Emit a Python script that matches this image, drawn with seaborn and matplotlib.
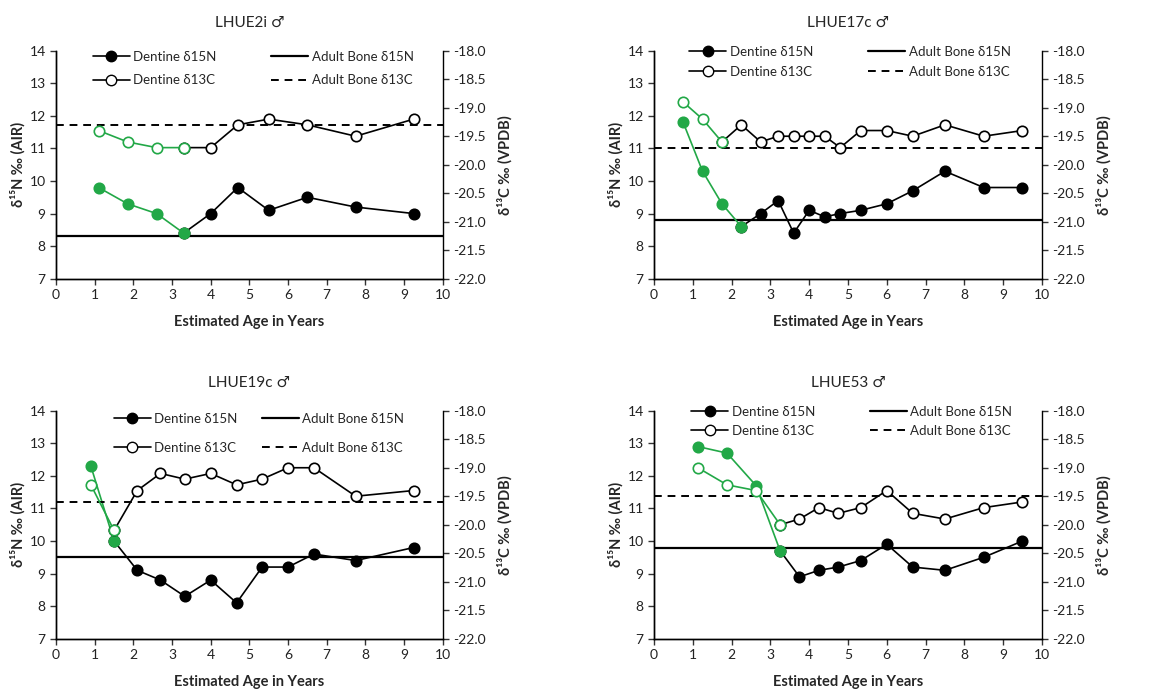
import numpy as np
import matplotlib
matplotlib.use("Agg")
import matplotlib.pyplot as plt
import seaborn as sns
from matplotlib.lines import Line2D
from matplotlib.ticker import FormatStrFormatter

sns.set_style("ticks")
plt.rcParams['font.family'] = ['Lato', 'DejaVu Sans']
plt.rcParams['axes.unicode_minus'] = False

GREEN = '#22a847'

# Data per individual
titles = ['LHUE2i ♂', 'LHUE17c ♂', 'LHUE19c ♂', 'LHUE53 ♂']

age_2i = [1.1, 1.85, 2.6, 3.3, 4.0, 4.7, 5.5, 6.5, 7.75, 9.25]
n15_2i = [9.8, 9.3, 9.0, 8.4, 9.0, 9.8, 9.1, 9.5, 9.2, 9.0]
c13_2i = [-19.4, -19.6, -19.7, -19.7, -19.7, -19.3, -19.2, -19.3, -19.5, -19.2]

age_17c = [0.75, 1.25, 1.75, 2.25, 2.75, 3.2, 3.6, 4.0, 4.4, 4.8, 5.33, 6.0, 6.67, 7.5, 8.5, 9.5]
n15_17c = [11.8, 10.3, 9.3, 8.6, 9.0, 9.4, 8.4, 9.1, 8.9, 9.0, 9.1, 9.3, 9.7, 10.3, 9.8, 9.8]
c13_17c = [-18.9, -19.2, -19.6, -19.3, -19.6, -19.5, -19.5, -19.5, -19.5, -19.7, -19.4, -19.4, -19.5, -19.3, -19.5, -19.4]

age_19c = [0.9, 1.5, 2.1, 2.7, 3.33, 4.0, 4.67, 5.33, 6.0, 6.67, 7.75, 9.25]
n15_19c = [12.3, 10.0, 9.1, 8.8, 8.3, 8.8, 8.1, 9.2, 9.2, 9.6, 9.4, 9.8]
c13_19c = [-19.3, -20.1, -19.4, -19.1, -19.2, -19.1, -19.3, -19.2, -19.0, -19.0, -19.5, -19.4]

age_53 = [1.13, 1.88, 2.63, 3.25, 3.75, 4.25, 4.75, 5.33, 6.0, 6.67, 7.5, 8.5, 9.5]
n15_53 = [12.9, 12.7, 11.7, 9.7, 8.9, 9.1, 9.2, 9.4, 9.9, 9.2, 9.1, 9.5, 10.0]
c13_53 = [-19.0, -19.3, -19.4, -20.0, -19.9, -19.7, -19.8, -19.7, -19.4, -19.8, -19.9, -19.7, -19.6]

ages = [age_2i, age_17c, age_19c, age_53]
n15s = [n15_2i, n15_17c, n15_19c, n15_53]
c13s = [c13_2i, c13_17c, c13_19c, c13_53]
# number of early (green) points per series
green_n = [4, 4, 2, 4]
green_c = [4, 3, 2, 4]
adult_n = [8.3, 8.8, 9.5, 9.8]
adult_c = [-19.3, -19.7, -19.6, -19.5]

# layout
positions = [
    [0.048, 0.599, 0.331, 0.328],
    [0.560, 0.599, 0.332, 0.328],
    [0.048, 0.081, 0.331, 0.328],
    [0.560, 0.081, 0.332, 0.328],
]
leg_x = [0.51, 0.505, 0.525, 0.51]
leg_y = [1.053, 1.075, 1.044, 1.075]
leg_rowsp = [0.9, 0.65, 1.3, 0.55]
leg_colsp = [4.1, 4.1, 1.8, 4.1]

fig = plt.figure(figsize=(11.68, 6.95), dpi=100)


def draw_series(ax, x, y, g, filled):
    x = np.asarray(x)
    y = np.asarray(y)
    kw = dict(marker='o', markersize=7.5, linewidth=1.2, markeredgewidth=1.2, legend=False)
    # later part in black
    sns.lineplot(x=x[g - 1:], y=y[g - 1:], ax=ax, color='black',
                 markerfacecolor='black' if filled else 'white',
                 markeredgecolor='black', **kw)
    # early part in green
    sns.lineplot(x=x[:g], y=y[:g], ax=ax, color=GREEN,
                 markerfacecolor=GREEN if filled else 'white',
                 markeredgecolor=GREEN, **kw)


for i in range(4):
    ax = fig.add_axes(positions[i])
    ax2 = ax.twinx()

    ax.axhline(adult_n[i], color='black', lw=1.6, zorder=1)
    draw_series(ax, ages[i], n15s[i], green_n[i], True)
    ax2.axhline(adult_c[i], color='black', lw=1.4, ls=(0, (4, 3)), zorder=1)
    draw_series(ax2, ages[i], c13s[i], green_c[i], False)

    ax.set_xlim(0, 10)
    ax.set_ylim(7, 14)
    ax2.set_ylim(-22, -18)
    ax.set_xticks(range(0, 11))
    ax.set_yticks(range(7, 15))
    ax2.set_yticks(np.arange(-22, -17.9, 0.5))
    ax2.yaxis.set_major_formatter(FormatStrFormatter('%.1f'))

    for a in (ax, ax2):
        a.spines['top'].set_visible(False)
        for s in a.spines.values():
            s.set_color('black')
            s.set_linewidth(1.0)
        a.tick_params(direction='out', length=4, width=1, colors='#333333',
                      labelsize=10, labelcolor='#222222')
    ax.spines['right'].set_visible(False)

    ax.set_xlabel('Estimated Age in Years', fontsize=10.5, fontweight='bold', labelpad=10)
    ax.set_ylabel('δ¹⁵N ‰ (AIR)', fontsize=10.5, fontweight='bold', labelpad=3)
    ax2.set_ylabel('δ¹³C ‰ (VPDB)', fontsize=10.5, fontweight='bold', labelpad=8)
    ax.set_title(titles[i], fontsize=11, pad=17)

    handles = [
        Line2D([], [], color='black', marker='o', ms=7.5, mfc='black', lw=1.2),
        Line2D([], [], color='black', marker='o', ms=7.5, mfc='white', lw=1.2),
        Line2D([], [], color='black', lw=1.6),
        Line2D([], [], color='black', lw=1.4, ls=(0, (4, 3))),
    ]
    labels = ['Dentine δ15N', 'Dentine δ13C', 'Adult Bone δ15N', 'Adult Bone δ13C']
    ax2.legend(handles, labels, loc='upper center', bbox_to_anchor=(leg_x[i], leg_y[i]),
               ncol=2, frameon=False, fontsize=9.5, handlelength=2.8,
               columnspacing=leg_colsp[i], labelspacing=leg_rowsp[i], handletextpad=0.3)

fig.savefig('out.png', dpi=100)
